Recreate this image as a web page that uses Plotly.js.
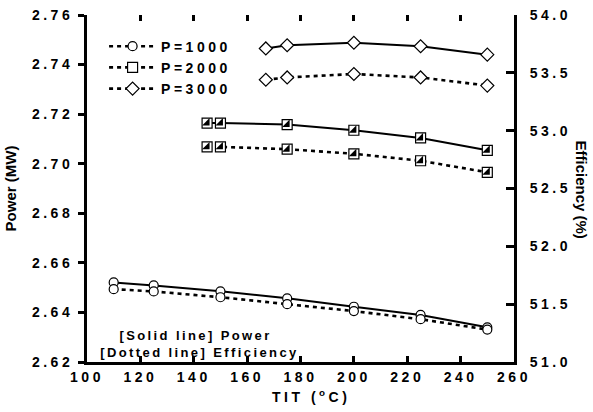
<!DOCTYPE html>
<html>
<head>
<meta charset="utf-8">
<script src="https://cdn.plot.ly/plotly-3.0.1.min.js"></script>
<style>
  html, body { margin: 0; padding: 0; background: #fff; }
  #chart { width: 593px; height: 412px; }
  .xtick text, .ytick text, .y2tick text, .legendtext { letter-spacing: 3.5px; }
  .annotation[data-index="0"] text, .annotation[data-index="1"] text { letter-spacing: 2.4px; }
  .annotation[data-index="3"] text { letter-spacing: 3.5px; }
</style>
</head>
<body>
<div id="chart"></div>
<script>
// ---- data ----
const tit1000 = [110, 125, 150, 175, 200, 225, 250];
const power1000 = [2.6521, 2.6509, 2.6485, 2.6457, 2.6423, 2.6390, 2.6340];
const eff1000 = [51.63, 51.61, 51.56, 51.50, 51.44, 51.37, 51.28];

const tit2000 = [145, 150, 175, 200, 225, 250];
const power2000 = [2.7164, 2.7164, 2.7158, 2.7135, 2.7104, 2.7054];
const eff2000 = [52.86, 52.86, 52.84, 52.80, 52.74, 52.64];

const tit3000 = [167, 175, 200, 225, 250];
const power3000 = [2.7465, 2.7478, 2.7488, 2.7474, 2.7440];
const eff3000 = [53.44, 53.46, 53.49, 53.46, 53.39];

const seriesNames = ['P=1000', 'P=2000', 'P=3000'];
const xTicks = [100, 120, 140, 160, 180, 200, 220, 240, 260];
const powerTicks = [2.62, 2.64, 2.66, 2.68, 2.70, 2.72, 2.74, 2.76];
const effTicks = [51.0, 51.5, 52.0, 52.5, 53.0, 53.5, 54.0];
const noteLines = ['[Solid line] Power', '[Dotted line] Efficiency'];
const xTitle = 'TIT (<sup>o</sup>C)';
const yTitle = 'Power (MW)';
const y2Title = 'Efficiency (%)';

// ---- styling ----
const FONT = "'Liberation Sans', Arial, Helvetica, sans-serif";
const openMarker = (symbol, size) => ({symbol: symbol, size: size, color: '#ffffff', line: {color: '#000', width: 1.2}});
const solid = {color: '#000', width: 2};
const dotted = {color: '#000', width: 2.6, dash: '4px,4px'};

function powerTrace(x, y, sym, size) {
  return {x: x, y: y, xaxis: 'x', yaxis: 'y', mode: 'lines+markers', line: solid,
          marker: openMarker(sym, size), showlegend: false, hoverinfo: 'skip'};
}
function effTrace(x, y, sym, size, name) {
  return {x: x, y: y, xaxis: 'x', yaxis: 'y2', mode: 'lines+markers', line: dotted,
          marker: openMarker(sym, size), name: name, legendgroup: name, showlegend: true, hoverinfo: 'skip'};
}
// black lower-right half of the P=2000 squares (on the bottom-line axis, same range as x)
function halfFill(x, y, yaxis) {
  return {x: x, y: y, xaxis: 'x2', yaxis: yaxis, mode: 'markers',
          marker: {symbol: 'triangle-se', size: 8.3, color: '#000', line: {width: 0}},
          showlegend: false, hoverinfo: 'skip'};
}

const data = [
  effTrace(tit1000, eff1000, 'circle', 9, seriesNames[0]),
  effTrace(tit2000, eff2000, 'square', 10, seriesNames[1]),
  effTrace(tit3000, eff3000, 'diamond', 10, seriesNames[2]),
  powerTrace(tit1000, power1000, 'circle', 9),
  powerTrace(tit2000, power2000, 'square', 10),
  powerTrace(tit3000, power3000, 'diamond', 10),
  halfFill(tit2000, power2000, 'y'),
  halfFill(tit2000, eff2000, 'y3')
];

const tickFont = {family: FONT, size: 14, color: '#000', weight: 700};
const boldFont = (s) => ({family: FONT, size: s, color: '#000', weight: 700});

const layout = {
  width: 593, height: 412,
  margin: {l: 87, r: 79, t: 15, b: 50},
  paper_bgcolor: '#ffffff', plot_bgcolor: 'rgba(0,0,0,0)',
  font: {family: FONT, color: '#000'},
  showlegend: true,
  legend: {
    x: 0.04, y: 0.955, xanchor: 'left', yanchor: 'top',
    bgcolor: 'rgba(0,0,0,0)', borderwidth: 0,
    font: boldFont(14),
    traceorder: 'grouped', tracegroupgap: 0, itemwidth: 47
  },
  // main x axis: labels + ticks at bottom, mirrored ticks at top, no line
  xaxis: {
    range: [100, 260], tickvals: xTicks, ticktext: xTicks.map(String),
    ticks: 'inside', ticklen: 6, tickwidth: 3, tickcolor: '#000',
    showline: false, mirror: 'ticks',
    showgrid: false, zeroline: false, tickfont: tickFont, ticklabelstandoff: 5
  },
  // overlay x axis: only the bottom axis line
  xaxis2: {
    overlaying: 'x', side: 'bottom', anchor: 'y',
    range: [100, 260], tickvals: xTicks,
    ticks: '', showline: true, linewidth: 3, linecolor: '#000',
    showgrid: false, zeroline: false, showticklabels: false
  },
  yaxis: {
    range: [2.62, 2.76], tickvals: powerTicks, ticktext: powerTicks.map(v => v.toFixed(2)),
    ticks: 'outside', ticklen: 6, tickwidth: 3, tickcolor: '#000',
    showline: true, linewidth: 3, linecolor: '#000',
    showgrid: false, zeroline: false, tickfont: tickFont, ticklabelstandoff: 2,
    title: {text: yTitle, font: boldFont(15), standoff: 12}
  },
  yaxis2: {
    overlaying: 'y', side: 'right', anchor: 'x',
    range: [51, 54], tickvals: effTicks, ticktext: effTicks.map(v => v.toFixed(1)),
    ticks: 'inside', ticklen: 8, tickwidth: 3, tickcolor: '#000',
    showline: true, linewidth: 3, linecolor: '#000',
    showgrid: false, zeroline: false, tickfont: tickFont, ticklabelstandoff: 10
  },
  // hidden copy of the efficiency scale, used with the overlay x axis
  yaxis3: {
    overlaying: 'y', side: 'right', anchor: 'x', range: [51, 54],
    visible: false, showgrid: false, zeroline: false
  },
  annotations: [
    {text: noteLines[0], xref: 'paper', yref: 'paper', x: 0.255, y: 0.077, showarrow: false,
     xanchor: 'center', yanchor: 'middle', font: boldFont(13)},
    {text: noteLines[1], xref: 'paper', yref: 'paper', x: 0.265, y: 0.028, showarrow: false,
     xanchor: 'center', yanchor: 'middle', font: boldFont(13)},
    {text: y2Title, xref: 'paper', yref: 'paper', x: 1.157, y: 0.497, showarrow: false, textangle: 90,
     xanchor: 'center', yanchor: 'middle', font: boldFont(15)},
    {text: xTitle, xref: 'paper', yref: 'paper', x: 0.525, y: -0.098, showarrow: false,
     xanchor: 'center', yanchor: 'middle', font: boldFont(14)}
  ]
};

Plotly.newPlot('chart', data, layout, {displayModeBar: false, staticPlot: true});
</script>
</body>
</html>
